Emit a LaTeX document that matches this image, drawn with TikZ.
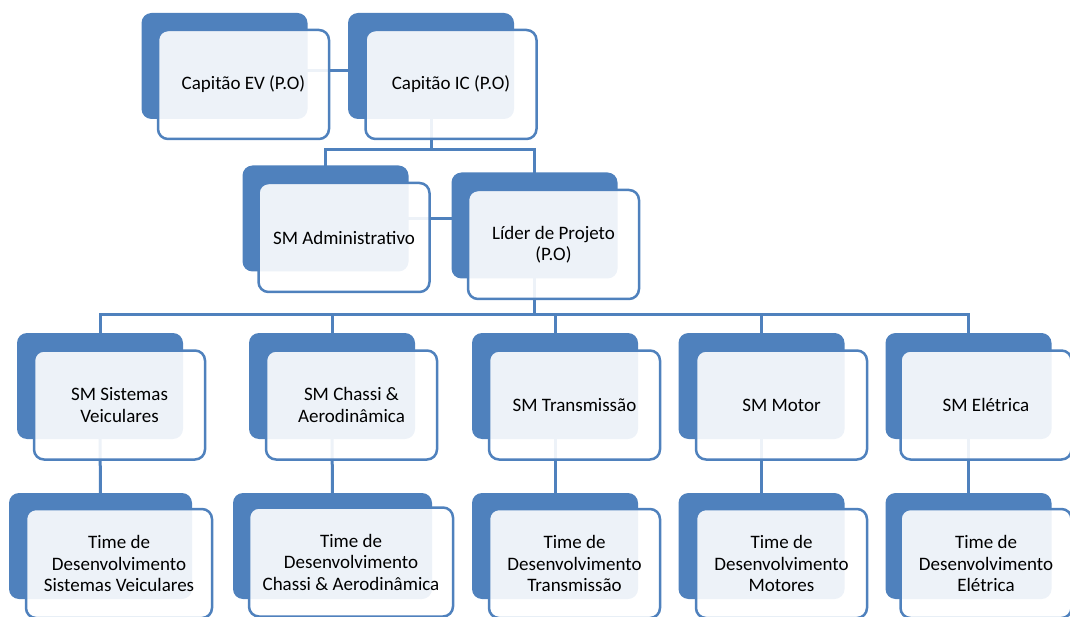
\documentclass[tikz,border=0pt]{standalone}
\usepackage{fontspec}
\setmainfont{Carlito}
\usetikzlibrary{
  backgrounds
}
\definecolor{ofblue}{HTML}{4F81BD}

\begin{document}
\begin{tikzpicture}[
  x=1pt, y=-1pt,
  back/.style = {shape=rectangle, rounded corners=10pt,
    fill=ofblue, minimum width=166pt, minimum height=106pt},
  front/.style = {shape=rectangle, rounded corners=10pt,
    draw=ofblue, line width=2.5pt, fill=white, fill opacity=0.9,
    text opacity=1, align=center,
    minimum width=171pt, minimum height=109pt,
    font=\fontsize{19}{21.5}\selectfont},
  link/.style = {draw=ofblue, line width=3pt}]
  \useasboundingbox (0,0) rectangle (1070,617);

  \node[back] (evb) at (224.5,66) {};
  \node[front] (ev) at (243.5,84.5) {Capitão EV (P.O)};
  \node[back] (icb) at (431,66) {};
  \node[front] (ic) at (451,84.5) {Capitão IC (P.O)};

  \node[back] (admb) at (325.5,218.5) {};
  \node[front] (adm) at (344,237.5) {SM Administrativo};
  \node[back] (lidb) at (534.5,225.5) {};
  \node[front] (lid) at (553.5,244.5) {Líder de Projeto\\(P.O)};

  \node[back] (sisb) at (100,386) {};
  \node[front] (sis) at (119.5,405) {SM Sistemas\\Veiculares};
  \node[back] (chab) at (332,386) {};
  \node[front] (cha) at (351.5,405) {SM Chassi \&\\Aerodinâmica};
  \node[back] (trab) at (555,386) {};
  \node[front] (tra) at (574.5,405) {SM Transmissão};
  \node[back] (motb) at (761.5,386) {};
  \node[front] (mot) at (781.5,405) {SM Motor};
  \node[back] (eleb) at (968.5,386) {};
  \node[front] (ele) at (986,405) {SM Elétrica};

  \node[back, minimum width=183pt] (tsisb) at (100.5,546) {};
  \node[front, minimum width=186pt] (tsis) at (119,563.5)
    {Time de\\Desenvolvimento\\Sistemas Veiculares};
  \node[back, minimum width=199pt] (tchab) at (332.5,546) {};
  \node[front, minimum width=204pt] (tcha) at (351,562)
    {Time de\\Desenvolvimento\\Chassi \& Aerodinâmica};
  \node[back] (ttrab) at (555,546) {};
  \node[front] (ttra) at (574.5,563.5) {Time de\\Desenvolvimento\\Transmissão};
  \node[back] (tmotb) at (761.5,546) {};
  \node[front] (tmot) at (781.5,563.5) {Time de\\Desenvolvimento\\Motores};
  \node[back] (teleb) at (968.5,546) {};
  \node[front] (tele) at (986,563.5) {Time de\\Desenvolvimento\\Elétrica};

  \begin{scope}[on background layer]
    \draw[link] ([yshift=-5pt]evb.center) -- ([yshift=-5pt]icb.center);
    \draw[link] (icb.center) -- ++(0,84) coordinate (icbar) -| (admb.center);
    \draw[link] (icbar) -| (lidb.center);
    \draw[link] (admb.center) -- (admb.center -| lidb.center);
    \draw[link] (lidb.center) -- ++(0,89.5) coordinate (lidbar);
    \foreach \n in {sisb,chab,trab,motb,eleb}
      \draw[link] (lidbar) -| (\n.center);
    \foreach \a/\b in {sisb/tsisb,chab/tchab,trab/ttrab,motb/tmotb,eleb/teleb}
      \draw[link] (\a.center) -- (\b.center);
  \end{scope}
\end{tikzpicture}
\end{document}
